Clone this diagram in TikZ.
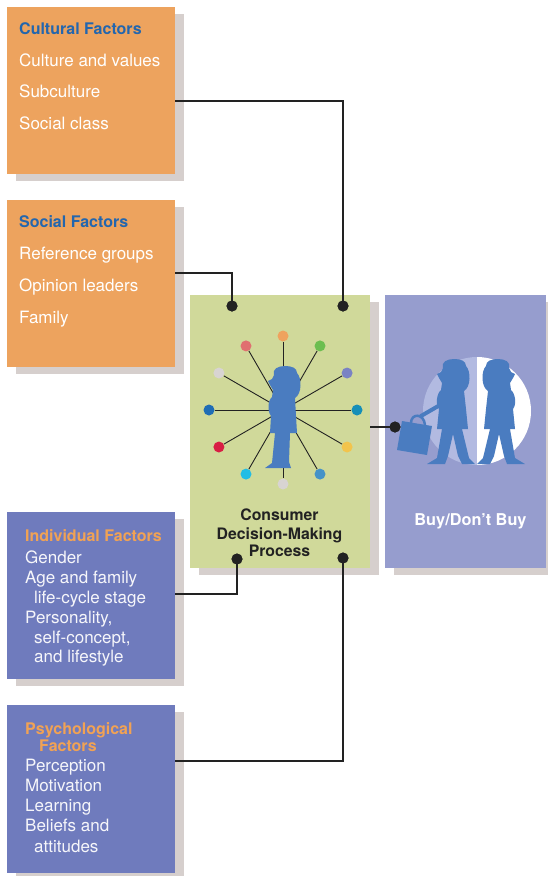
\documentclass[tikz,border=0pt]{standalone}
\usepackage{fontspec}
\setmainfont{TeX Gyre Heros}
\usetikzlibrary{shadows}

\definecolor{boxorange}{RGB}{237,163,94}
\definecolor{boxindigo}{RGB}{111,123,189}
\definecolor{boxlilac}{RGB}{150,157,206}
\definecolor{boxgreen}{RGB}{208,217,154}
\definecolor{shade}{RGB}{214,207,205}
\definecolor{headblue}{RGB}{35,102,174}
\definecolor{headorange}{RGB}{241,162,84}
\definecolor{figblue}{RGB}{74,124,192}
\definecolor{ink}{RGB}{34,34,34}
\definecolor{halo}{RGB}{178,186,225}
\definecolor{lighttext}{RGB}{246,246,250}
\definecolor{tOrange}{RGB}{239,163,94}
\definecolor{tGreen}{RGB}{108,190,80}
\definecolor{tPurple}{RGB}{122,131,196}
\definecolor{tTeal}{RGB}{22,143,184}
\definecolor{tYellow}{RGB}{242,196,76}
\definecolor{tSteel}{RGB}{69,147,200}
\definecolor{tGrey}{RGB}{216,212,210}
\definecolor{tCyan}{RGB}{34,189,229}
\definecolor{tCrimson}{RGB}{216,30,68}
\definecolor{tBlue}{RGB}{31,109,181}
\definecolor{tRose}{RGB}{224,112,112}

\tikzset{
  panel/.style={anchor=north west, inner sep=0pt, draw=none,
    drop shadow={shadow xshift=9pt, shadow yshift=-7pt, fill=shade, opacity=1}},
  body/.style={anchor=base west, inner sep=0pt, font=\fontsize{17}{20}\selectfont},
  head/.style={anchor=base west, inner sep=0pt, font=\fontsize{16}{18}\selectfont\bfseries},
  title/.style={anchor=base, inner sep=0pt, font=\fontsize{15.8}{18}\selectfont\bfseries},
  conn/.style={draw=ink, line width=1.5pt},
  joint/.style={circle, fill=ink, minimum size=11pt, inner sep=0pt},
  spoke/.style={draw=ink, line width=0.9pt},
  tone/.style={circle, minimum size=11pt, inner sep=0pt},
  % woman in profile, legs together
  person/.pic={
    \fill[figblue] (-9,9) .. controls (-11,3) and (-5,0) .. (2,0)
      .. controls (9,0) and (14,2) .. (14,7)
      .. controls (19,12) and (19,28) .. (12,32)
      -- (13,50) -- (14,67) -- (7,67) -- (6,96) -- (8,102)
      -- (-18,102) -- (-11,97) -- (-8,67) -- (-13,67) -- (-12,50)
      .. controls (-16,45) and (-15,34) .. (-11,31)
      -- (-10,24) -- (-13,19) -- (-15,15) -- (-11,13) -- cycle;
  },
  % woman in profile, standing with legs apart
  stander/.pic={
    \fill[figblue] (-9,9) .. controls (-11,3) and (-5,0) .. (2,0)
      .. controls (9,0) and (14,2) .. (14,7)
      .. controls (19,12) and (19,28) .. (12,32)
      -- (14,50) -- (16,70) -- (10,70) -- (17,99) -- (23,105)
      -- (10,105) -- (6,97) -- (1,75) -- (-4,97) -- (-7,105)
      -- (-25,105) -- (-15,99) -- (-10,70) -- (-15,70) -- (-13,50)
      .. controls (-17,45) and (-15,34) .. (-11,31)
      -- (-10,24) -- (-13,19) -- (-15,15) -- (-11,13) -- cycle;
  }
}

\begin{document}
\begin{tikzpicture}[x=1pt, y=-1pt]
\useasboundingbox (0,0) rectangle (548,876);

% panels
\node[panel, fill=boxorange, minimum width=168pt, minimum height=167pt] (cultural) at (7,7) {};
\node[panel, fill=boxorange, minimum width=168pt, minimum height=167pt] (social) at (7,200) {};
\node[panel, fill=boxindigo, minimum width=168pt, minimum height=167pt] (individual) at (7,512) {};
\node[panel, fill=boxindigo, minimum width=168pt, minimum height=168pt] (psych) at (7,705) {};
\node[panel, fill=boxgreen, minimum width=180pt, minimum height=273pt] (process) at (190,295) {};
\node[panel, fill=boxlilac, minimum width=161pt, minimum height=273pt] (choice) at (385,295) {};

% cultural factors
\node[head, text=headblue] (cultural-h) at (19,34) {Cultural Factors};
\node[body, text=white] (cultural-1) at (19,66) {Culture and values};
\node[body, text=white] (cultural-2) at (19,97.5) {Subculture};
\node[body, text=white] (cultural-3) at (19,129) {Social class};

% social factors
\node[head, text=headblue] (social-h) at (19,227.5) {Social Factors};
\node[body, text=white] (social-1) at (19,259.5) {Reference groups};
\node[body, text=white] (social-2) at (19,291.5) {Opinion leaders};
\node[body, text=white] (social-3) at (19,323.5) {Family};

% individual factors
\node[head, text=headorange] (individual-h) at (25,541.5) {Individual Factors};
\node[body, text=lighttext] (individual-1) at (25,563) {Gender};
\node[body, text=lighttext] (individual-2) at (25,583) {Age and family};
\node[body, text=lighttext] (individual-3) at (34,603) {life-cycle stage};
\node[body, text=lighttext] (individual-4) at (25,623) {Personality,};
\node[body, text=lighttext] (individual-5) at (34,643) {self-concept,};
\node[body, text=lighttext] (individual-6) at (34,662) {and lifestyle};

% psychological factors
\node[head, text=headorange] (psych-h1) at (25,734) {Psychological};
\node[head, text=headorange] (psych-h2) at (39,751.5) {Factors};
\node[body, text=lighttext] (psych-1) at (25,771.5) {Perception};
\node[body, text=lighttext] (psych-2) at (25,791.5) {Motivation};
\node[body, text=lighttext] (psych-3) at (25,811.5) {Learning};
\node[body, text=lighttext] (psych-4) at (25,831.5) {Beliefs and};
\node[body, text=lighttext] (psych-5) at (34,852) {attitudes};

% decision process: influences radiating from the consumer
\coordinate (hub) at (283,410);
\foreach \a/\c [count=\k] in {270/tOrange, 300/tGreen, 330/tPurple, 0/tTeal,
    30/tYellow, 60/tSteel, 90/tGrey, 120/tCyan, 150/tCrimson, 180/tBlue,
    210/tGrey, 240/tRose} {
  \node[tone, fill=\c] (tone-\k) at ([shift={(\a:74)}]hub) {};
  \draw[spoke] (hub) -- (tone-\k);
}
\pic (consumer) at (283,366) {person};

\node[title, text=ink] (process-1) at (279.5,520.5) {Consumer};
\node[title, text=ink] (process-2) at (279.5,539) {Decision-Making};
\node[title, text=ink] (process-3) at (279.5,556) {Process};

% buy / don't buy
\fill[halo] (477,357) arc[start angle=270, end angle=90, radius=54] -- cycle;
\fill[white] (477,357) arc[start angle=-90, end angle=90, radius=54] -- cycle;
\pic (buyer) at (452,359) {stander};
\pic[xscale=-1] (nonbuyer) at (500,359) {stander};
\draw[figblue, line width=4pt, line cap=round] (440,405) -- (421,416);
\draw[figblue, line width=2.5pt] (411,423) .. controls (411,413) and (424,413) .. (425,425);
\fill[figblue] (402,421) -- (432,426) -- (427,455) -- (397,450) -- cycle;

\node[title, text=white, font=\fontsize{16.3}{19}\selectfont\bfseries] (choice-t) at (470.5,525) {Buy/Don’t Buy};

% connectors
\node[joint] (j-cultural) at (343,306) {};
\node[joint] (j-social) at (232,306) {};
\node[joint] (j-individual) at (237,559) {};
\node[joint] (j-psych) at (343,558) {};
\node[joint] (j-choice) at (395,427) {};

\coordinate (out-cultural) at (175,101);
\coordinate (out-social) at (175,273);
\coordinate (out-individual) at (175,594);
\coordinate (out-psych) at (175,761);
\coordinate (out-process) at (370,427);

\draw[conn] (out-cultural) -| (j-cultural.center);
\draw[conn] (out-social) -| (j-social.center);
\draw[conn] (out-individual) -| (j-individual.center);
\draw[conn] (out-psych) -| (j-psych.center);
\draw[conn] (out-process) -- (j-choice.center);
\node[joint] at (j-cultural) {};
\node[joint] at (j-social) {};
\node[joint] at (j-individual) {};
\node[joint] at (j-psych) {};
\node[joint] at (j-choice) {};
\end{tikzpicture}
\end{document}
